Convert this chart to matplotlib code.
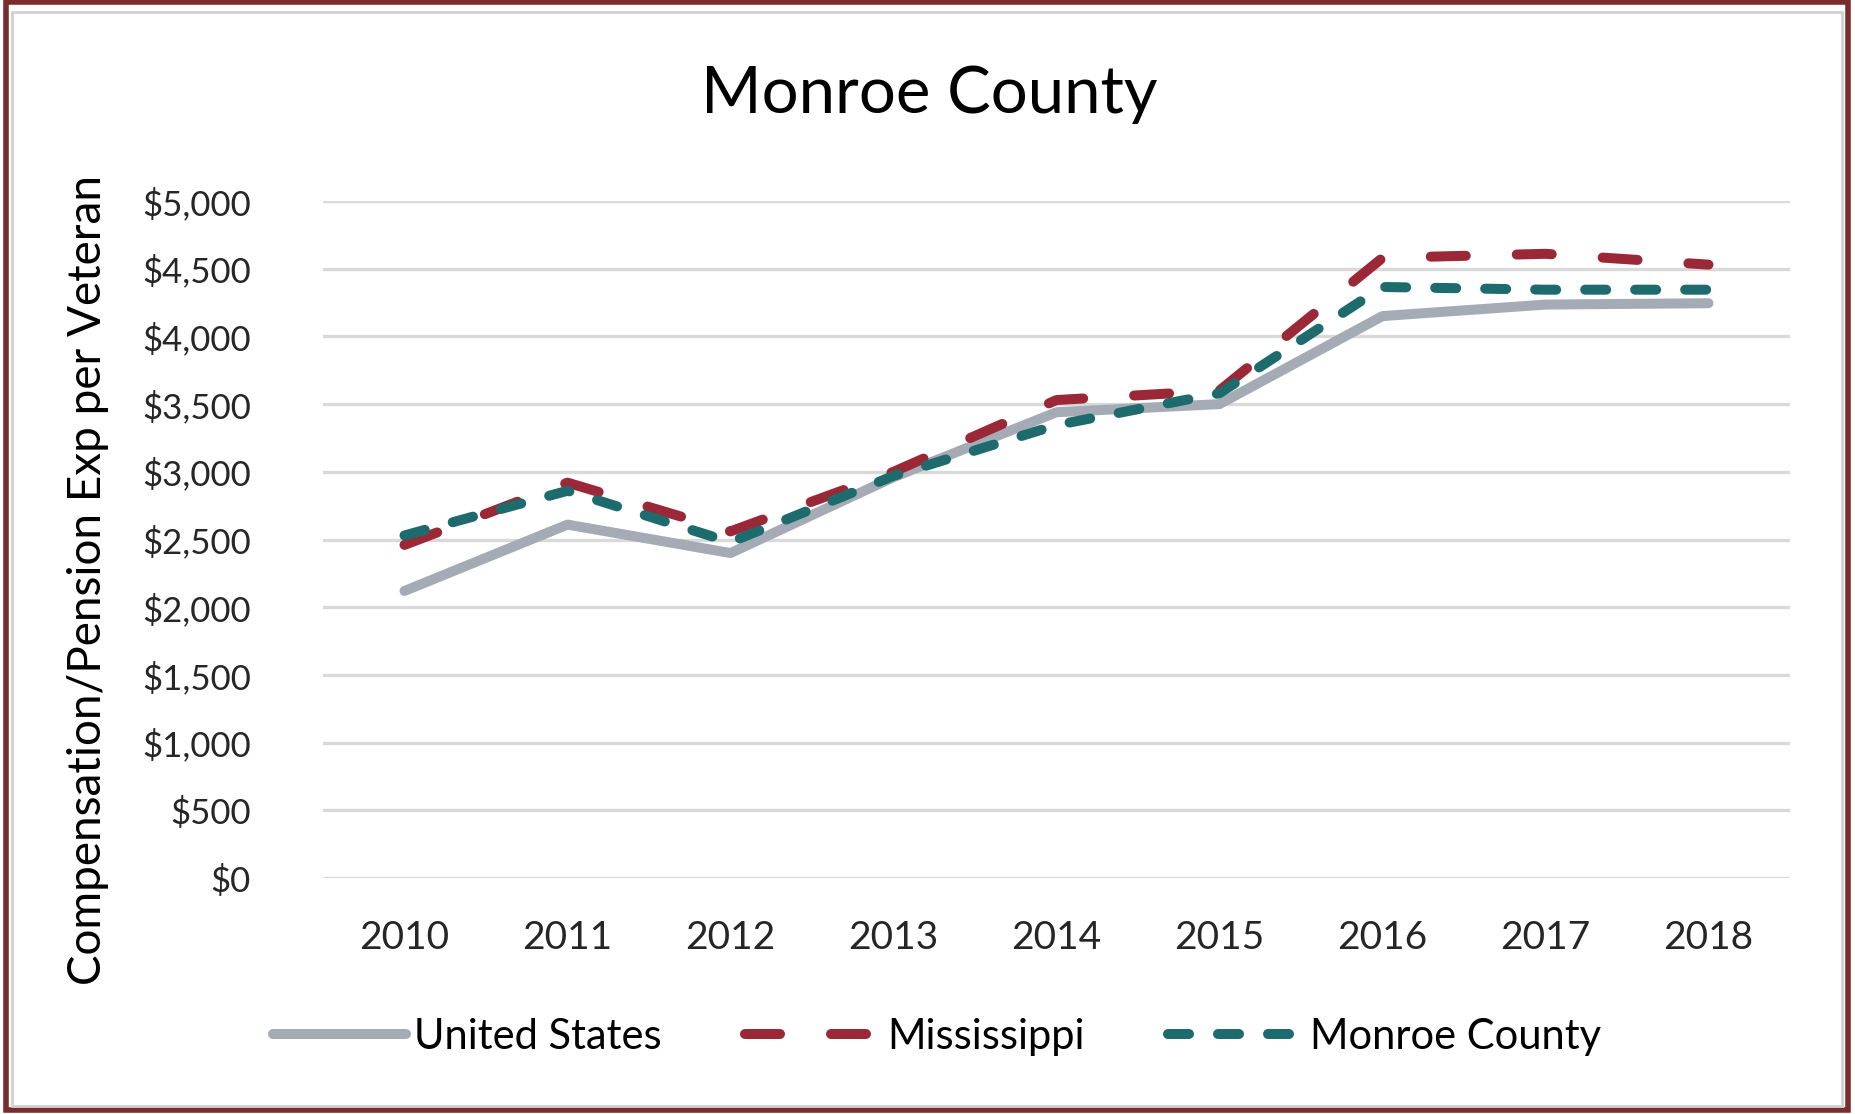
import matplotlib.pyplot as plt
from matplotlib.patches import Rectangle
from matplotlib.ticker import FuncFormatter

years = [2010, 2011, 2012, 2013, 2014, 2015, 2016, 2017, 2018]
united_states = [2120, 2610, 2400, 2960, 3440, 3500, 4150, 4235, 4245]
mississippi = [2460, 2920, 2560, 3000, 3530, 3600, 4580, 4610, 4530]
monroe = [2530, 2860, 2480, 2970, 3345, 3580, 4365, 4345, 4345]

plt.rcParams['font.family'] = ['Lato', 'DejaVu Sans']

fig = plt.figure(figsize=(18.55, 11.14), dpi=100)
ax = fig.add_axes([323 / 1855, 1 - 878 / 1114, 1467 / 1855, 677 / 1114])

ax.plot(years, united_states, color='#A4ABB4', linewidth=7.2,
        solid_capstyle='round', label='United States', zorder=3)
ax.plot(years, mississippi, color='#9B2836', linewidth=7.2,
        dashes=(3.5, 5.1), dash_capstyle='round', label='Mississippi', zorder=4)
ax.plot(years, monroe, color='#1D6B6C', linewidth=7.2,
        dashes=(2.1, 2.9), dash_capstyle='round', label='Monroe County', zorder=5)

ax.set_xlim(2009.5, 2018.5)
ax.set_ylim(0, 5000)
ax.set_xticks(years)
ax.set_yticks(range(0, 5001, 500))
ax.yaxis.set_major_formatter(FuncFormatter(lambda v, p: '${:,.0f}'.format(v)))
ax.tick_params(length=0, colors='#262626')
ax.tick_params(axis='y', pad=52, labelsize=25)
ax.tick_params(axis='x', pad=30, labelsize=28)
ax.grid(axis='y', color='#D9D9D9', linewidth=2.4)
ax.set_axisbelow(True)
for s in ax.spines.values():
    s.set_visible(False)

ax.set_ylabel('Compensation/Pension Exp per Veteran', fontsize=33,
              color='#000000')
ax.yaxis.set_label_coords(-0.146, 0.44)
fig.text(929 / 1855, 1 - 95 / 1114, 'Monroe County', fontsize=47,
         ha='center', va='center', color='#000000')

fig.legend(loc='center', bbox_to_anchor=(0.505, 1 - 1037 / 1114), ncol=3,
           frameon=False, fontsize=30, handlelength=3.2, handletextpad=0.2,
           columnspacing=2.0)

# frame around the chart
fig.patches.append(Rectangle((6 / 1855, 4 / 1114), 1842 / 1855, 1108 / 1114,
                             transform=fig.transFigure, fill=False,
                             edgecolor='#7A2B2B', linewidth=4))
fig.patches.append(Rectangle((12 / 1855, 8 / 1114), 1830 / 1855, 1094 / 1114,
                             transform=fig.transFigure, fill=False,
                             edgecolor='#D0D0D0', linewidth=2))

fig.savefig('out.png', dpi=100)
